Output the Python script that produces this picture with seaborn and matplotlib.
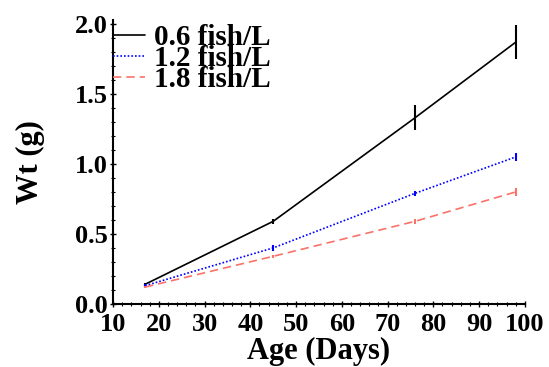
import matplotlib
matplotlib.use("Agg")
import matplotlib.pyplot as plt
import seaborn as sns
import pandas as pd
from matplotlib.ticker import MultipleLocator

days = [17, 45, 76, 98]
densities = ["0.6 fish/L", "1.2 fish/L", "1.8 fish/L"]
wt_06 = [0.14, 0.59, 1.33, 1.87]
err_06 = [0.01, 0.02, 0.09, 0.12]
wt_12 = [0.13, 0.40, 0.79, 1.05]
err_12 = [0.01, 0.02, 0.02, 0.03]
wt_18 = [0.12, 0.34, 0.59, 0.80]
err_18 = [0.01, 0.01, 0.02, 0.03]

sns.set_style("ticks")
plt.rcParams["font.family"] = ["Liberation Serif", "DejaVu Serif"]
plt.rcParams["font.weight"] = "bold"
for k in ["text.color", "axes.labelcolor", "xtick.color", "ytick.color"]:
    plt.rcParams[k] = "black"

rows = []
for dens, wts, errs in zip(densities, [wt_06, wt_12, wt_18], [err_06, err_12, err_18]):
    for d, w, e in zip(days, wts, errs):
        rows.append({"Age": d, "Wt": w, "err": e, "Density": dens})
df = pd.DataFrame(rows)

colors = {"0.6 fish/L": "black", "1.2 fish/L": "blue", "1.8 fish/L": "#FA7268"}
ls_map = {"0.6 fish/L": "-", "1.2 fish/L": (0, (1, 1.2)), "1.8 fish/L": (0, (5, 3))}

fig = plt.figure(figsize=(5.49, 3.67), dpi=100)
ax = fig.add_axes([0.206, 0.172, 0.750, 0.774])

for dens in densities:
    sub = df[df["Density"] == dens]
    sns.lineplot(data=sub, x="Age", y="Wt", ax=ax, color=colors[dens],
                 linestyle=ls_map[dens], linewidth=1.2, label=dens,
                 errorbar=None, sort=False)
    ax.errorbar(sub["Age"], sub["Wt"], yerr=sub["err"], fmt="none",
                ecolor=colors[dens], elinewidth=1.5, capsize=0)

ax.set_xlim(10, 100)
ax.set_ylim(0, 2.03)
ax.xaxis.set_major_locator(MultipleLocator(10))
ax.xaxis.set_minor_locator(MultipleLocator(2))
ax.yaxis.set_major_locator(MultipleLocator(0.5))
ax.yaxis.set_minor_locator(MultipleLocator(0.1))
ax.yaxis.set_major_formatter(matplotlib.ticker.FormatStrFormatter("%.1f"))
ax.tick_params(axis="both", which="major", direction="inout", length=5, width=1,
               labelsize=19, colors="black")
ax.tick_params(axis="x", which="major", pad=4)
ax.tick_params(axis="y", which="major", pad=1)
ax.tick_params(axis="both", which="minor", direction="inout", length=3, width=0.8,
               colors="black")
for lab in ax.get_xticklabels() + ax.get_yticklabels():
    lab.set_fontweight("bold")
sns.despine(ax=ax)
for s in ["left", "bottom"]:
    ax.spines[s].set_linewidth(1.5)
    ax.spines[s].set_color("black")

ax.set_xlabel("Age (Days)", fontsize=22, fontweight="bold", labelpad=1, color="black")
ax.set_ylabel("Wt (g)", fontsize=22, fontweight="bold", labelpad=22, color="black")

leg = ax.legend(loc="upper left", bbox_to_anchor=(0.0, 0.985), frameon=False,
                fontsize=21, handlelength=1.1, handletextpad=0.3,
                labelspacing=-0.2, borderaxespad=0, borderpad=0)
for t in leg.get_texts():
    t.set_fontweight("bold")
    t.set_color("black")

fig.savefig("out.png", dpi=100)
